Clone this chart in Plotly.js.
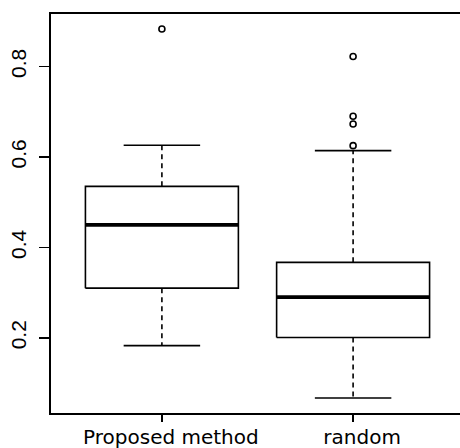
<!DOCTYPE html>
<html>
<head>
<meta charset="utf-8">
<script src="https://cdn.plot.ly/plotly-3.0.1.min.js"></script>
<style>
html, body { margin: 0; padding: 0; overflow: hidden; background: #fff; width: 460px; height: 448px; }
#chart { width: 468px; height: 448px; }
</style>
</head>
<body>
<div id="chart"></div>
<script>
// ---- data ----
const categories = ["Proposed method", "random"];
const lowerWhisker = [0.183, 0.067];
const q1 = [0.310, 0.201];
const median = [0.450, 0.290];
const q3 = [0.535, 0.367];
const upperWhisker = [0.626, 0.614];
const outliersProposed = [0.883];
const outliersRandom = [0.822, 0.690, 0.673, 0.625];
const yTickVals = [0.2, 0.4, 0.6, 0.8];
const yTickText = ["0.2", "0.4", "0.6", "0.8"];

// ---- drawing ----
const positions = categories.map((c, i) => i + 1);
const boxHalf = 0.4, capHalf = 0.2;
const black = "#000";
const traces = [];

positions.forEach((p, i) => {
  // box outline
  traces.push({
    type: "scatter", mode: "lines", hoverinfo: "skip", showlegend: false,
    x: [p - boxHalf, p + boxHalf, p + boxHalf, p - boxHalf, p - boxHalf],
    y: [q1[i], q1[i], q3[i], q3[i], q1[i]],
    line: { color: black, width: 1.6 }
  });
  // median
  traces.push({
    type: "scatter", mode: "lines", hoverinfo: "skip", showlegend: false,
    x: [p - boxHalf, p + boxHalf], y: [median[i], median[i]],
    line: { color: black, width: 3.8 }
  });
  // whiskers (dashed)
  traces.push({
    type: "scatter", mode: "lines", hoverinfo: "skip", showlegend: false,
    x: [p, p], y: [q3[i], upperWhisker[i]],
    line: { color: black, width: 1.6, dash: "5px,4px" }
  });
  traces.push({
    type: "scatter", mode: "lines", hoverinfo: "skip", showlegend: false,
    x: [p, p], y: [q1[i], lowerWhisker[i]],
    line: { color: black, width: 1.6, dash: "5px,4px" }
  });
  // caps
  traces.push({
    type: "scatter", mode: "lines", hoverinfo: "skip", showlegend: false,
    x: [p - capHalf, p + capHalf], y: [upperWhisker[i], upperWhisker[i]],
    line: { color: black, width: 1.6 }
  });
  traces.push({
    type: "scatter", mode: "lines", hoverinfo: "skip", showlegend: false,
    x: [p - capHalf, p + capHalf], y: [lowerWhisker[i], lowerWhisker[i]],
    line: { color: black, width: 1.6 }
  });
});

// outliers
[outliersProposed, outliersRandom].forEach((vals, i) => {
  traces.push({
    type: "scatter", mode: "markers", hoverinfo: "skip", showlegend: false,
    x: vals.map(() => positions[i]), y: vals,
    marker: { symbol: "circle-open", size: 6, color: black, line: { width: 1.6, color: black } }
  });
});

const yFont = { family: "Liberation Sans, Arial, sans-serif", size: 21, color: black };
const xFont = { family: "DejaVu Sans, sans-serif", size: 20, color: black };

const layout = {
  width: 468, height: 448,
  margin: { l: 51, r: 4, t: 14, b: 35 },
  paper_bgcolor: "#fff", plot_bgcolor: "#fff",
  showlegend: false,
  xaxis: {
    range: [0.42, 2.58], tickvals: positions, ticktext: categories,
    showgrid: false, zeroline: false,
    showline: true, mirror: true, linecolor: black, linewidth: 2,
    ticks: "outside", ticklen: 7, tickwidth: 1.6, tickcolor: black,
    tickfont: xFont, ticklabelshift: 9, ticklabelstandoff: -2
  },
  yaxis: {
    range: [0.034, 0.916], tickvals: yTickVals, ticktext: yTickText,
    showgrid: false, zeroline: false,
    showline: true, mirror: true, linecolor: black, linewidth: 2,
    ticks: "outside", ticklen: 10, tickwidth: 1.6, tickcolor: black,
    tickangle: -90, tickfont: yFont, ticklabelstandoff: 5
  }
};

Plotly.newPlot("chart", traces, layout, { staticPlot: true, displayModeBar: false });
</script>
</body>
</html>
